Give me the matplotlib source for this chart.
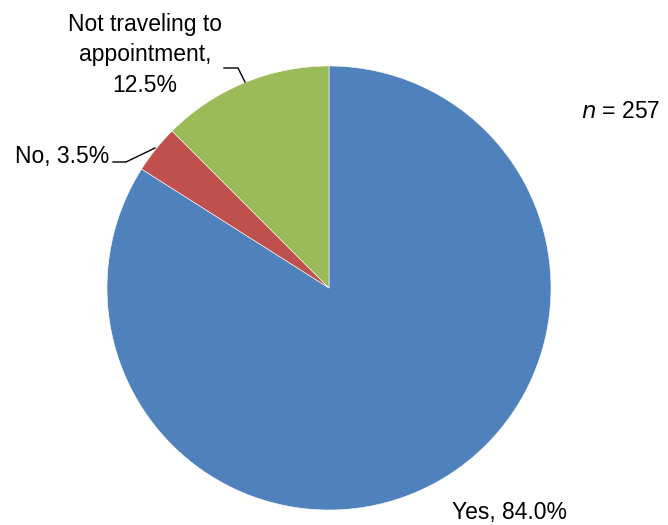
import matplotlib.pyplot as plt

categories = ["Yes", "No", "Not traveling to\nappointment,"]
shares = [84.0, 3.5, 12.5]
colors = ["#4F81BD", "#C0504D", "#9BBB59"]
sample_size = 257

plt.rcParams["font.family"] = ["Liberation Sans", "DejaVu Sans"]

W, H = 668, 525
fig = plt.figure(figsize=(W / 100, H / 100), dpi=100)
ax = fig.add_axes([0, 0, 1, 1])


def py(y):
    # pixel row (from top) to axes y
    return H - y


ax.pie(shares, colors=colors, startangle=90, counterclock=False,
       center=(329, py(288)), radius=222,
       wedgeprops=dict(edgecolor="white", linewidth=0.4))
ax.set_xlim(0, W)
ax.set_ylim(0, H)
ax.set_aspect("equal")
ax.axis("off")

fs = 16.5
yes_label = f"{categories[0]}, {shares[0]:.1f}%"
no_label = f"{categories[1]}, {shares[1]:.1f}%"
nt_label = f"{categories[2]}\n{shares[2]:.1f}%"

ax.text(509, py(513), yes_label, fontsize=fs, ha="center", va="center")
ax.text(109, py(157), no_label, fontsize=fs, ha="right", va="center")
ax.text(145, py(55), nt_label, fontsize=fs, ha="center", va="center",
        linespacing=1.4)

# leader lines
ax.plot([113, 126, 155], [py(162), py(162), py(148)], color="black", lw=1)
ax.plot([224, 238, 245], [py(68), py(68), py(82)], color="black", lw=1)

ax.text(621, py(111), f"$n$ = {sample_size}", fontsize=fs, ha="center",
        va="center")

plt.savefig("out.png", dpi=100)
